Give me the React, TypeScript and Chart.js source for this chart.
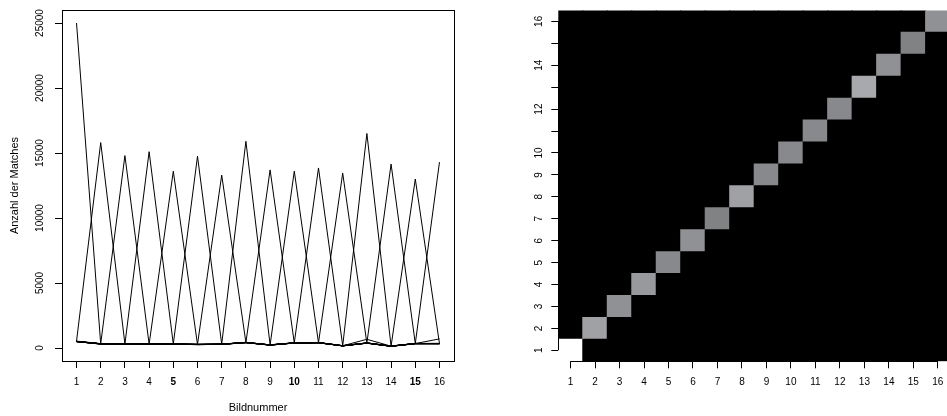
import React, { useEffect, useRef } from 'react';
import { Chart, registerables } from 'chart.js';

Chart.register(...registerables);

// ---------- data ----------
const images = [1, 2, 3, 4, 5, 6, 7, 8, 9, 10, 11, 12, 13, 14, 15, 16];
const xTickLabels = ['1', '2', '3', '4', '5', '6', '7', '8', '9', '10', '11', '12', '13', '14', '15', '16'];
const boldXTicks = [5, 10, 15];
const yTickValues = [0, 5000, 10000, 15000, 20000, 25000];
const heatYTickLabels = ['1', '2', '3', '4', '5', '6', '7', '8', '9', '10', '', '12', '', '14', '', '16'];

// number of matches of image i (series) against each image 1..16
const s1 = [25000, 310, 330, 300, 290, 260, 280, 410, 220, 380, 400, 160, 370, 130, 330, 330];
const s2 = [520, 15800, 320, 310, 300, 270, 300, 430, 240, 400, 420, 180, 390, 150, 350, 340];
const s3 = [490, 330, 14800, 300, 310, 280, 290, 420, 230, 390, 410, 170, 380, 140, 340, 350];
const s4 = [510, 320, 310, 15100, 300, 270, 280, 440, 240, 380, 400, 170, 370, 140, 330, 340];
const s5 = [500, 300, 320, 290, 13600, 260, 300, 420, 220, 390, 420, 160, 380, 130, 340, 330];
const s6 = [480, 320, 330, 310, 310, 14750, 290, 410, 230, 400, 410, 180, 390, 150, 350, 350];
const s7 = [500, 330, 320, 300, 290, 280, 13300, 430, 240, 380, 400, 170, 370, 140, 340, 340];
const s8 = [530, 340, 330, 320, 310, 290, 300, 15900, 250, 400, 420, 180, 390, 150, 350, 350];
const s9 = [490, 310, 310, 290, 300, 260, 280, 410, 13700, 390, 410, 160, 380, 140, 330, 340];
const s10 = [500, 320, 320, 300, 300, 270, 290, 420, 230, 13600, 400, 170, 380, 140, 340, 330];
const s11 = [510, 330, 330, 310, 310, 280, 300, 430, 240, 400, 13850, 180, 390, 150, 350, 340];
const s12 = [490, 300, 310, 290, 290, 260, 280, 410, 220, 380, 400, 13450, 370, 130, 330, 330];
const s13 = [500, 320, 320, 300, 300, 270, 290, 420, 230, 390, 410, 160, 16500, 140, 340, 700];
const s14 = [510, 320, 330, 300, 310, 270, 300, 420, 240, 390, 420, 170, 380, 14150, 340, 340];
const s15 = [500, 310, 320, 300, 300, 270, 290, 420, 230, 390, 410, 170, 380, 140, 13000, 340];
const s16 = [500, 320, 320, 300, 300, 270, 290, 420, 230, 390, 410, 170, 670, 140, 340, 14300];

const series = [s1, s2, s3, s4, s5, s6, s7, s8, s9, s10, s11, s12, s13, s14, s15, s16];

// ---------- styling ----------
const FONT = '"Liberation Sans", Arial, Helvetica, sans-serif';
const maxVal = Math.max(...series.map((s) => Math.max(...s)));
const minVal = Math.min(...series.map((s) => Math.min(...s)));
const GRAY_LEVELS = 32;

function cellColour(v: number): string {
  const t = Math.max(0, (v - minVal) / (maxVal - minVal));
  const q = Math.floor(t * GRAY_LEVELS) / GRAY_LEVELS;
  const l = Math.round(255 * q);
  const g = Math.min(255, Math.round(l * 1.012));
  const b = Math.min(255, Math.round(l * 1.035));
  return `rgb(${l},${g},${b})`;
}

const framePlugin = {
  id: 'frame',
  afterDraw(chart: any) {
    const { ctx, chartArea: a } = chart;
    ctx.save();
    ctx.strokeStyle = '#000';
    ctx.lineWidth = 1;
    ctx.strokeRect(
      Math.round(a.left) + 0.5,
      Math.round(a.top) + 0.5,
      Math.round(a.right - a.left),
      Math.round(a.bottom - a.top)
    );
    ctx.restore();
  },
};

function rotatedYLabels(labels: string[] | null, offset: number) {
  return {
    id: 'rotY',
    afterDraw(chart: any) {
      const sc = chart.scales.y;
      const ctx = chart.ctx;
      ctx.save();
      ctx.fillStyle = '#000';
      ctx.font = `10px ${FONT}`;
      ctx.textAlign = 'center';
      ctx.textBaseline = 'middle';
      sc.ticks.forEach((t: any, i: number) => {
        const label = labels ? labels[i] : String(t.value);
        if (!label) return;
        const y = sc.getPixelForValue(t.value);
        ctx.save();
        ctx.translate(chart.chartArea.left - offset, y);
        ctx.rotate(-Math.PI / 2);
        ctx.fillText(label, 0, 0);
        ctx.restore();
      });
      ctx.restore();
    },
  };
}

const heatAxisLines = {
  id: 'heatAxisLines',
  afterDraw(chart: any) {
    const { ctx, chartArea: a, scales } = chart;
    const x0 = scales.x.getPixelForValue(0);
    const x1 = scales.x.getPixelForValue(images.length - 1);
    const y0 = scales.y.getPixelForValue(images[0]);
    const y1 = scales.y.getPixelForValue(images[images.length - 1]);
    ctx.save();
    ctx.strokeStyle = '#000';
    ctx.lineWidth = 1;
    ctx.beginPath();
    const by = Math.round(a.bottom) + 0.5;
    ctx.moveTo(x0, by);
    ctx.lineTo(x1, by);
    const lx = Math.round(a.left) + 0.5;
    ctx.moveTo(lx, y0);
    ctx.lineTo(lx, y1);
    ctx.stroke();
    ctx.restore();
  },
};

const tickGrid = {
  display: true,
  drawOnChartArea: false,
  drawTicks: true,
  tickLength: 7,
  color: '#000',
  tickColor: '#000',
  lineWidth: 1,
  offset: false,
};

export default function App() {
  const leftRef = useRef<HTMLCanvasElement>(null);
  const rightRef = useRef<HTMLCanvasElement>(null);

  useEffect(() => {
    const left = new Chart(leftRef.current as HTMLCanvasElement, {
      type: 'line',
      data: {
        datasets: series.map((s, i) => ({
          label: `Bild ${i + 1}`,
          data: s.map((v, j) => ({ x: images[j], y: v })),
          borderColor: '#000',
          backgroundColor: '#000',
          borderWidth: 1,
          pointRadius: 0,
          fill: false,
          tension: 0,
        })),
      },
      options: {
        responsive: false,
        animation: false,
        events: [],
        layout: { padding: { top: 10, right: 26, left: 0, bottom: 0 } },
        plugins: { legend: { display: false }, tooltip: { enabled: false } },
        scales: {
          x: {
            type: 'linear',
            min: 0.4,
            max: 16.6,
            afterBuildTicks: (sc: any) => {
              sc.ticks = images.map((v) => ({ value: v }));
            },
            afterFit: (sc: any) => {
              sc.height = 55;
            },
            grid: tickGrid,
            border: { display: false },
            ticks: {
              color: '#000',
              padding: 8,
              maxRotation: 0,
              autoSkip: false,
              font: (ctx: any) => ({
                family: FONT,
                size: 10,
                weight: ctx.tick && boldXTicks.includes(ctx.tick.value) ? 'bold' : 'normal',
              }),
              callback: (v: any) => xTickLabels[images.indexOf(Number(v))] ?? '',
            },
            title: {
              display: true,
              text: 'Bildnummer',
              color: '#000',
              font: { family: FONT, size: 11 },
              padding: { top: 0, bottom: 1.4 },
            },
          },
          y: {
            type: 'linear',
            min: -1000,
            max: 26000,
            afterBuildTicks: (sc: any) => {
              sc.ticks = yTickValues.map((v) => ({ value: v }));
            },
            afterFit: (sc: any) => {
              sc.width = 62;
            },
            grid: tickGrid,
            border: { display: false },
            ticks: { display: false },
            title: {
              display: true,
              text: 'Anzahl der Matches',
              color: '#000',
              font: { family: FONT, size: 11 },
              padding: { top: 8.4, bottom: 0 },
            },
          },
        },
      },
      plugins: [framePlugin, rotatedYLabels(null, 21.3)],
    } as any);

    const right = new Chart(rightRef.current as HTMLCanvasElement, {
      type: 'bar',
      data: {
        labels: xTickLabels,
        datasets: images.map((row) => ({
          label: `Zeile ${row}`,
          data: images.map(() => [row - 0.5, row + 0.5]),
          backgroundColor: images.map((_, c) => cellColour(series[row - 1][c])),
          borderWidth: 0,
          grouped: false,
          barPercentage: 1,
          categoryPercentage: 1,
          inflateAmount: 0.5,
        })),
      },
      options: {
        responsive: false,
        animation: false,
        events: [],
        layout: { padding: { top: 10.4, right: 1.9, left: 0, bottom: 0 } },
        plugins: { legend: { display: false }, tooltip: { enabled: false } },
        scales: {
          x: {
            type: 'category',
            offset: true,
            afterFit: (sc: any) => {
              sc.height = 54.7;
            },
            grid: tickGrid,
            border: { display: false },
            ticks: {
              color: '#000',
              padding: 8,
              maxRotation: 0,
              autoSkip: false,
              font: { family: FONT, size: 10 },
            },
          },
          y: {
            type: 'linear',
            min: 0.5,
            max: 16.5,
            afterBuildTicks: (sc: any) => {
              sc.ticks = images.map((v) => ({ value: v }));
            },
            afterFit: (sc: any) => {
              sc.width = 78.3;
            },
            grid: tickGrid,
            border: { display: false },
            ticks: { display: false },
          },
        },
      },
      plugins: [heatAxisLines, rotatedYLabels(heatYTickLabels, 18.8)],
    } as any);

    return () => {
      left.destroy();
      right.destroy();
    };
  }, []);

  return (
    <div
      style={{
        position: 'fixed',
        left: 0,
        top: 0,
        width: 947,
        height: 416,
        overflow: 'hidden',
        background: '#fff',
      }}
    >
      <div style={{ position: 'absolute', left: 0, top: 0, width: 480, height: 416 }}>
        <canvas ref={leftRef} width={480} height={416} />
      </div>
      <div style={{ position: 'absolute', left: 480, top: 0, width: 472, height: 416 }}>
        <canvas ref={rightRef} width={472} height={416} />
      </div>
    </div>
  );
}
